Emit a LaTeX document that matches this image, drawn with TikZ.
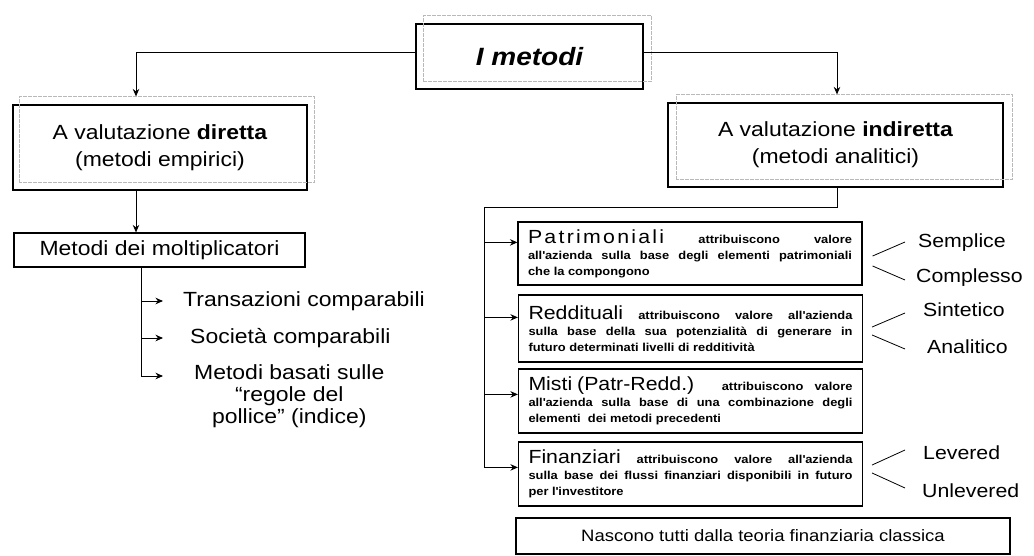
\documentclass[tikz,border=0pt]{standalone}
\usepackage{fontspec}
\setmainfont{Liberation Sans}[FakeStretch=1.12]
\usetikzlibrary{arrows.meta}
\newcommand{\bigword}{\fontsize{19}{22}\selectfont\mdseries}
\newcommand{\smalltext}{\fontsize{11.5}{16}\selectfont\bfseries\tolerance=10000\hyphenpenalty=10000}
\newcommand{\ap}{\textquotesingle}
\begin{document}
\begin{tikzpicture}[x=1pt,y=-1pt,
    box/.style={draw,line width=1.2pt,inner sep=0pt,align=center},
    shadowbox/.style={draw=gray!55,line width=0.6pt,dash pattern=on 4pt off 1pt},
    catbox/.style={draw,line width=1.2pt,minimum width=344pt,text width=324pt,inner xsep=10pt,inner ysep=0pt,align=justify,font=\smalltext},
    link/.style={line width=0.9pt,-{Stealth[length=7.5pt,width=6.5pt]}},
    item/.style={anchor=west,inner sep=0pt,font=\fontsize{20.5}{22}\selectfont}]
  \useasboundingbox (0,0) rectangle (1034,555);
  % top levels
  \node[box,minimum width=227pt,minimum height=65pt,font=\fontsize{25}{30}\selectfont\bfseries\itshape] (metodi) at (529.5,56.5) {I metodi};
  \node[box,minimum width=294pt,minimum height=85pt,font=\fontsize{20.5}{27}\selectfont] (diretta) at (160,147.5) {A valutazione \textbf{diretta}\\(metodi empirici)};
  \node[box,minimum width=335pt,minimum height=84pt,font=\fontsize{20.5}{27}\selectfont] (indiretta) at (835.5,145) {A valutazione \textbf{indiretta}\\(metodi analitici)};
  \foreach \n/\s in {metodi/8,diretta/7,indiretta/9}
    \draw[shadowbox] ([shift={(\s,-8)}]\n.south west) rectangle ([shift={(\s,-8)}]\n.north east);
  \draw[link] ([shift={(0,-4)}]metodi.west) -| ([shift={(-24,-8)}]diretta.north);
  \draw[link] ([shift={(0,-4)}]metodi.east) -| ([shift={(1.5,-8)}]indiretta.north);
  % direct methods
  \node[box,minimum width=291pt,minimum height=34pt,font=\fontsize{20.5}{22}\selectfont] (molt) at (159.5,250) {Metodi dei moltiplicatori};
  \draw[link] ([xshift=-24pt]diretta.south) -- ([xshift=-24pt]diretta.south |- molt.north);
  \node[item] (trans) at (183,301) {Transazioni comparabili};
  \node[item] (soc) at (190,338) {Società comparabili};
  \node[item,anchor=north west,align=center] (basati) at (194,364) {Metodi basati sulle\\“regole del\\pollice” (indice)};
  \coordinate (mtrunk) at ([xshift=-18.5pt]molt.south);
  \foreach \n/\d in {trans/20,soc/27}
    \draw[link] (mtrunk) |- ([xshift=-\d pt]\n.west);
  \draw[link] (mtrunk) |- ([shift={(-31,12)}]basati.north west);
  % indirect methods
  \node[catbox,minimum height=63pt] (patr) at (690,253.5) {{\bigword\addfontfeatures{LetterSpace=12}Patrimoniali} attribuiscono valore\linebreak all\ap azienda sulla base degli elementi patrimoniali\linebreak che la compongono};
  \node[catbox,minimum height=67pt] (redd) at (690.5,328.5) {{\bigword Reddituali} attribuiscono valore all\ap azienda\linebreak sulla base della sua potenzialità di generare in\linebreak futuro determinati livelli di redditività};
  \node[catbox,minimum height=64pt] (misti) at (690.5,401) {{\bigword Misti\hspace{5pt}(Patr-Redd.)} attribuiscono valore\linebreak all\ap azienda sulla base di una combinazione degli\linebreak elementi\ \ dei metodi precedenti};
  \node[catbox,minimum height=64pt] (fin) at (690.5,474) {{\bigword Finanziari} attribuiscono valore all\ap azienda\linebreak sulla base dei flussi finanziari disponibili in futuro\linebreak per l\ap investitore};
  \coordinate (rtrunk) at (484,207);
  \draw[line width=0.9pt] ([xshift=1.5pt]indiretta.south) |- (rtrunk);
  \foreach \n/\d in {patr/21,redd/23,misti/26,fin/26}
    \draw[link] (rtrunk) |- ([shift={(0,\d)}]\n.north west);
  % variants
  \node[item,font=\fontsize{19}{22}\selectfont] (semplice) at (918,243) {Semplice};
  \node[item,font=\fontsize{19}{22}\selectfont] (complesso) at (916,278) {Complesso};
  \node[item,font=\fontsize{19}{22}\selectfont] (sintetico) at (923,310) {Sintetico};
  \node[item,font=\fontsize{19}{22}\selectfont] (analitico) at (927,347) {Analitico};
  \node[item,font=\fontsize{19}{22}\selectfont] (levered) at (923,453) {Levered};
  \node[item,font=\fontsize{19}{22}\selectfont] (unlevered) at (922,491) {Unlevered};
  \draw[line width=0.8pt] ([shift={(10,2.5)}]patr.east) -- ([shift={(-13,-1)}]semplice.west);
  \draw[line width=0.8pt] ([shift={(10,12.5)}]patr.east) -- ([shift={(-11,2)}]complesso.west);
  \draw[line width=0.8pt] ([shift={(9,-1.5)}]redd.east) -- ([shift={(-18,3)}]sintetico.west);
  \draw[line width=0.8pt] ([shift={(9,6.5)}]redd.east) -- ([shift={(-22,2)}]analitico.west);
  \draw[line width=0.8pt] ([shift={(9,-9)}]fin.east) -- ([shift={(-18,-3)}]levered.west);
  \draw[line width=0.8pt] ([shift={(9,-1)}]fin.east) -- ([shift={(-17,-3)}]unlevered.west);
  % common origin
  \node[box,minimum width=494pt,minimum height=36pt,font=\fontsize{16.5}{20}\selectfont] (nascono) at (763,536) {Nascono tutti dalla teoria finanziaria classica};
\end{tikzpicture}
\end{document}
